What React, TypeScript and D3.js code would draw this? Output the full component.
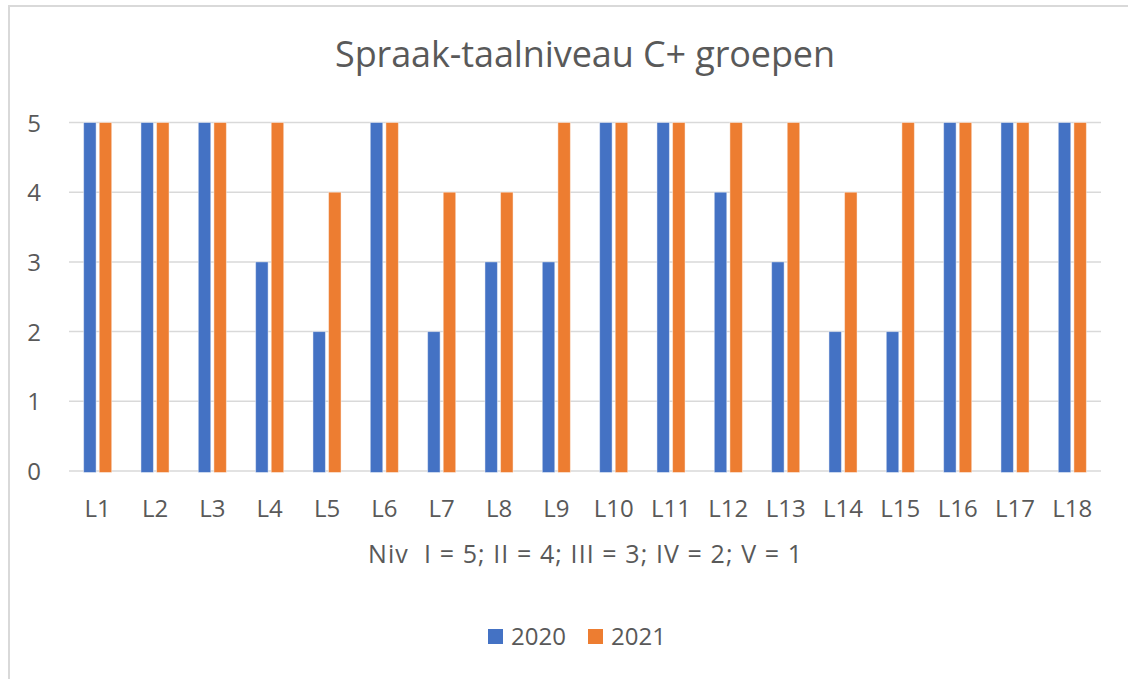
import React from "react";
import * as d3 from "d3";

const categories = [
  "L1", "L2", "L3", "L4", "L5", "L6", "L7", "L8", "L9",
  "L10", "L11", "L12", "L13", "L14", "L15", "L16", "L17", "L18",
];
const seriesNames = ["2020", "2021"];
const values2020 = [5, 5, 5, 3, 2, 5, 2, 3, 3, 5, 5, 4, 3, 2, 2, 5, 5, 5];
const values2021 = [5, 5, 5, 5, 4, 5, 4, 4, 5, 5, 5, 5, 5, 4, 5, 5, 5, 5];
const yTicks = [0, 1, 2, 3, 4, 5];
const title = "Spraak-taalniveau C+ groepen";
const axisTitle = "Niv  I = 5; II = 4; III = 3; IV = 2; V = 1";

const W = 1128;
const H = 679;
const font = "'Open Sans', sans-serif";
const textColor = "#595959";
const gridColor = "#d9d9d9";
const colors = ["#4472C4", "#ED7D31"];

const App = () => {
  const seriesValues = [values2020, values2021];

  const x = d3
    .scaleBand()
    .domain(categories)
    .range([69, 1101])
    .paddingInner(0.51)
    .paddingOuter(0.255);

  const x1 = d3
    .scaleBand()
    .domain(seriesNames)
    .range([0, x.bandwidth()])
    .paddingInner(0.2);

  const y = d3.scaleLinear().domain([0, 5]).range([471, 122.5]);

  const legendX = [488, 588];

  return (
    <svg
      width={W}
      height={H}
      style={{ position: "absolute", left: 0, top: 0, background: "#fff" }}
    >
      {/* chart area border */}
      <rect
        x={9}
        y={6}
        width={W + 20}
        height={H + 20}
        fill="#fff"
        stroke={gridColor}
        strokeWidth={2}
      />

      <text
        x={585}
        y={67}
        textAnchor="middle"
        fontFamily={font}
        fontSize={36}
        textLength={500}
        lengthAdjust="spacing"
        fill={textColor}
      >
        {title}
      </text>

      {/* gridlines */}
      {yTicks.map((t) => (
        <line
          key={"g" + t}
          x1={69}
          x2={1101}
          y1={y(t)}
          y2={y(t)}
          stroke={gridColor}
          strokeWidth={1.5}
        />
      ))}

      {/* y tick labels */}
      {yTicks.map((t) => (
        <text
          key={"y" + t}
          x={41}
          y={y(t) + 9}
          textAnchor="end"
          fontFamily={font}
          fontSize={24}
          fill={textColor}
        >
          {t}
        </text>
      ))}

      {/* bars */}
      {seriesNames.map((s, si) =>
        categories.map((c, ci) => (
          <rect
            key={s + c}
            x={(x(c) ?? 0) + (x1(s) ?? 0)}
            y={y(seriesValues[si][ci])}
            width={x1.bandwidth()}
            height={y(0) - y(seriesValues[si][ci]) + 1.5}
            fill={colors[si]}
            stroke="#ffffff"
            strokeOpacity={0.45}
            strokeWidth={1}
          />
        ))
      )}

      {/* x tick labels */}
      {categories.map((c) => (
        <text
          key={"x" + c}
          x={(x(c) ?? 0) + x.bandwidth() / 2}
          y={517}
          textAnchor="middle"
          fontFamily={font}
          fontSize={24}
          fill={textColor}
        >
          {c}
        </text>
      ))}

      <text
        x={585}
        y={563}
        textAnchor="middle"
        fontFamily={font}
        fontSize={25}
        textLength={434}
        lengthAdjust="spacing"
        fill={textColor}
        style={{ whiteSpace: "pre" }}
      >
        {axisTitle}
      </text>

      {/* legend */}
      {seriesNames.map((s, si) => (
        <g key={"l" + s} transform={`translate(${legendX[si]}, 629)`}>
          <rect width={15} height={15} fill={colors[si]} />
          <text
            x={23}
            y={16}
            fontFamily={font}
            fontSize={24}
            fill={textColor}
          >
            {s}
          </text>
        </g>
      ))}
    </svg>
  );
};

export default App;
